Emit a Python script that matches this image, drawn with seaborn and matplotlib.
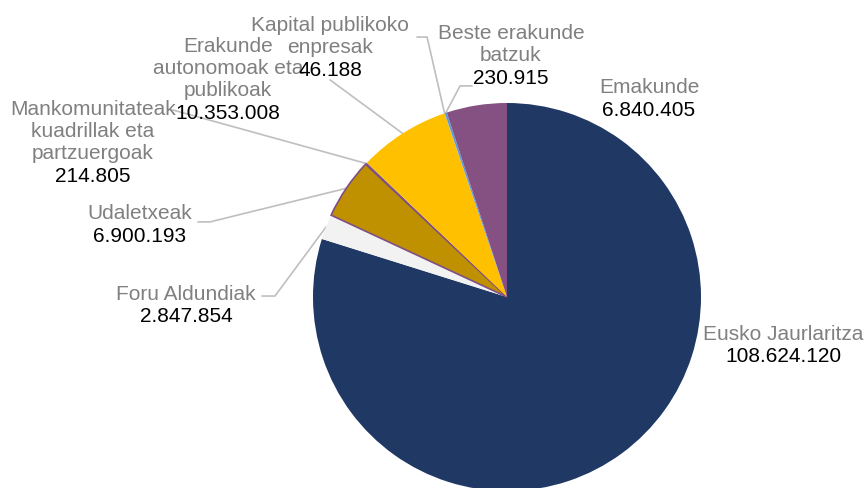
import numpy as np
import matplotlib
matplotlib.use("Agg")
import matplotlib.pyplot as plt
import seaborn as sns

# === DATA ===
names = [
    "Eusko Jaurlaritza",
    "Foru Aldundiak",
    "Udaletxeak",
    "Mankomunitateak\nkuadrillak eta\npartzuergoak",
    "Erakunde\nautonomoak eta\npublikoak",
    "Kapital publikoko\nenpresak",
    "Beste erakunde\nbatzuk",
    "Emakunde",
]
values = [108624120, 2847854, 6900193, 214805, 10353008, 46188, 230915, 6840405]
value_labels = ["108.624.120", "2.847.854", "6.900.193", "214.805",
                "10.353.008", "46.188", "230.915", "6.840.405"]
colors = ["#203864", "#f2f2f2", "#bf9000", "#7f4f86",
          "#ffc000", "#a5a5a5", "#5b9bd5", "#855082"]

# === LAYOUT (data units, radius = 1) ===
# text position (x, y of the gap between name and value)
text_pos = [(1.423, -0.25), (-1.655, -0.044), (-1.892, 0.371), (-2.134, 0.68),
            (-1.438, 1.005), (-0.912, 1.227), (0.02, 1.186), (0.732, 1.021)]
# leader line: start near the text, elbow (None = no leader)
leaders = [None,
           [(-1.263, 0.005), (-1.196, 0.005)],
           [(-1.593, 0.387), (-1.531, 0.387)],
           [(-1.722, 0.964)],
           [(-0.912, 1.119)],
           [(-0.464, 1.340), (-0.412, 1.340)],
           [(-0.180, 1.088), (-0.242, 1.088)],
           None]

sns.set_theme(style="white")
plt.rcParams["font.family"] = ["Liberation Sans", "DejaVu Sans"]

W, H = 866, 488
fig = plt.figure(figsize=(W / 100, H / 100), dpi=100)
cx, cy, r = 507, 297, 194
ax = fig.add_axes([(cx - r) / W, (H - cy - r) / H, 2 * r / W, 2 * r / H])

wedges, _ = ax.pie(values, colors=colors, startangle=90, counterclock=False,
                   radius=1, wedgeprops=dict(linewidth=0))
wedges[2].set_edgecolor("#7f4f86")
wedges[2].set_linewidth(1.2)
for w in wedges:
    w.set_clip_on(False)

ax.set_xlim(-1, 1)
ax.set_ylim(-1, 1)
ax.set_aspect("equal")
ax.axis("off")

for i, w in enumerate(wedges):
    tx, ty = text_pos[i]
    ax.text(tx, ty + 0.01, names[i], ha="center", va="bottom", fontsize=15,
            color="#808080", linespacing=1.2, clip_on=False)
    ax.text(tx, ty - 0.01, value_labels[i], ha="center", va="top", fontsize=15,
            color="black", clip_on=False)
    if leaders[i] is not None:
        mid = np.deg2rad((w.theta1 + w.theta2) / 2)
        pts = leaders[i] + [(np.cos(mid), np.sin(mid))]
        xs, ys = zip(*pts)
        ax.plot(xs, ys, color="#bfbfbf", linewidth=1.2, clip_on=False, zorder=0)

fig.savefig("out.png", dpi=100)
